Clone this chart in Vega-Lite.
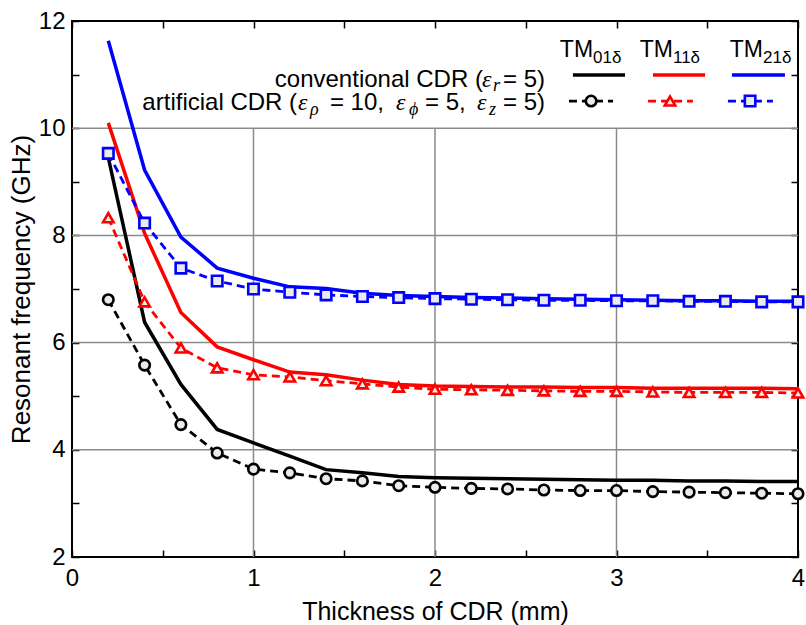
{
  "$schema": "https://vega.github.io/schema/vega-lite/v6.json",
  "width": 726,
  "height": 536,
  "autosize": {"type": "none"},
  "padding": {"left": 72, "top": 21, "right": 8, "bottom": 68},
  "background": "white",
  "config": {
    "font": "Liberation Sans",
    "view": {"stroke": "black", "strokeWidth": 2},
    "axis": {
      "domain": false,
      "grid": false,
      "labelFont": "Liberation Sans",
      "labelFontSize": 24,
      "labelColor": "black",
      "titleFont": "Liberation Sans",
      "titleFontSize": 25,
      "titleFontWeight": "normal",
      "titleColor": "black",
      "tickColor": "black",
      "tickWidth": 1.5,
      "tickSize": -7,
      "labelOverlap": false,
      "labelFlush": false
    }
  },
  "resolve": {"axis": {"x": "independent", "y": "independent"}},
  "datasets": {
    "curves": [
      {"t": 0.2, "mode": "TM01δ", "conventional": 9.45, "artificial": 6.80},
      {"t": 0.4, "mode": "TM01δ", "conventional": 6.38, "artificial": 5.58},
      {"t": 0.6, "mode": "TM01δ", "conventional": 5.22, "artificial": 4.47},
      {"t": 0.8, "mode": "TM01δ", "conventional": 4.38, "artificial": 3.94},
      {"t": 1.0, "mode": "TM01δ", "conventional": 4.13, "artificial": 3.64},
      {"t": 1.2, "mode": "TM01δ", "conventional": 3.88, "artificial": 3.57},
      {"t": 1.4, "mode": "TM01δ", "conventional": 3.63, "artificial": 3.46},
      {"t": 1.6, "mode": "TM01δ", "conventional": 3.57, "artificial": 3.42},
      {"t": 1.8, "mode": "TM01δ", "conventional": 3.50, "artificial": 3.33},
      {"t": 2.0, "mode": "TM01δ", "conventional": 3.48, "artificial": 3.30},
      {"t": 2.2, "mode": "TM01δ", "conventional": 3.47, "artificial": 3.28},
      {"t": 2.4, "mode": "TM01δ", "conventional": 3.46, "artificial": 3.27},
      {"t": 2.6, "mode": "TM01δ", "conventional": 3.45, "artificial": 3.25},
      {"t": 2.8, "mode": "TM01δ", "conventional": 3.44, "artificial": 3.24},
      {"t": 3.0, "mode": "TM01δ", "conventional": 3.43, "artificial": 3.24},
      {"t": 3.2, "mode": "TM01δ", "conventional": 3.43, "artificial": 3.22},
      {"t": 3.4, "mode": "TM01δ", "conventional": 3.42, "artificial": 3.21},
      {"t": 3.6, "mode": "TM01δ", "conventional": 3.42, "artificial": 3.20},
      {"t": 3.8, "mode": "TM01δ", "conventional": 3.41, "artificial": 3.19},
      {"t": 4.0, "mode": "TM01δ", "conventional": 3.41, "artificial": 3.18},
      {"t": 0.2, "mode": "TM11δ", "conventional": 10.10, "artificial": 8.33},
      {"t": 0.4, "mode": "TM11δ", "conventional": 8.04, "artificial": 6.76},
      {"t": 0.6, "mode": "TM11δ", "conventional": 6.56, "artificial": 5.90},
      {"t": 0.8, "mode": "TM11δ", "conventional": 5.92, "artificial": 5.53},
      {"t": 1.0, "mode": "TM11δ", "conventional": 5.68, "artificial": 5.40},
      {"t": 1.2, "mode": "TM11δ", "conventional": 5.45, "artificial": 5.36},
      {"t": 1.4, "mode": "TM11δ", "conventional": 5.40, "artificial": 5.29},
      {"t": 1.6, "mode": "TM11δ", "conventional": 5.30, "artificial": 5.23},
      {"t": 1.8, "mode": "TM11δ", "conventional": 5.22, "artificial": 5.17},
      {"t": 2.0, "mode": "TM11δ", "conventional": 5.19, "artificial": 5.13},
      {"t": 2.2, "mode": "TM11δ", "conventional": 5.18, "artificial": 5.12},
      {"t": 2.4, "mode": "TM11δ", "conventional": 5.17, "artificial": 5.11},
      {"t": 2.6, "mode": "TM11δ", "conventional": 5.17, "artificial": 5.10},
      {"t": 2.8, "mode": "TM11δ", "conventional": 5.16, "artificial": 5.09},
      {"t": 3.0, "mode": "TM11δ", "conventional": 5.16, "artificial": 5.09},
      {"t": 3.2, "mode": "TM11δ", "conventional": 5.15, "artificial": 5.08},
      {"t": 3.4, "mode": "TM11δ", "conventional": 5.15, "artificial": 5.07},
      {"t": 3.6, "mode": "TM11δ", "conventional": 5.15, "artificial": 5.07},
      {"t": 3.8, "mode": "TM11δ", "conventional": 5.15, "artificial": 5.07},
      {"t": 4.0, "mode": "TM11δ", "conventional": 5.14, "artificial": 5.06},
      {"t": 0.2, "mode": "TM21δ", "conventional": 11.63, "artificial": 9.53},
      {"t": 0.4, "mode": "TM21δ", "conventional": 9.22, "artificial": 8.23},
      {"t": 0.6, "mode": "TM21δ", "conventional": 7.97, "artificial": 7.39},
      {"t": 0.8, "mode": "TM21δ", "conventional": 7.39, "artificial": 7.15},
      {"t": 1.0, "mode": "TM21δ", "conventional": 7.20, "artificial": 7.00},
      {"t": 1.2, "mode": "TM21δ", "conventional": 7.04, "artificial": 6.94},
      {"t": 1.4, "mode": "TM21δ", "conventional": 7.01, "artificial": 6.89},
      {"t": 1.6, "mode": "TM21δ", "conventional": 6.92, "artificial": 6.86},
      {"t": 1.8, "mode": "TM21δ", "conventional": 6.88, "artificial": 6.84},
      {"t": 2.0, "mode": "TM21δ", "conventional": 6.86, "artificial": 6.82},
      {"t": 2.2, "mode": "TM21δ", "conventional": 6.84, "artificial": 6.81},
      {"t": 2.4, "mode": "TM21δ", "conventional": 6.83, "artificial": 6.80},
      {"t": 2.6, "mode": "TM21δ", "conventional": 6.82, "artificial": 6.79},
      {"t": 2.8, "mode": "TM21δ", "conventional": 6.81, "artificial": 6.79},
      {"t": 3.0, "mode": "TM21δ", "conventional": 6.80, "artificial": 6.78},
      {"t": 3.2, "mode": "TM21δ", "conventional": 6.79, "artificial": 6.78},
      {"t": 3.4, "mode": "TM21δ", "conventional": 6.78, "artificial": 6.77},
      {"t": 3.6, "mode": "TM21δ", "conventional": 6.78, "artificial": 6.77},
      {"t": 3.8, "mode": "TM21δ", "conventional": 6.77, "artificial": 6.76},
      {"t": 4.0, "mode": "TM21δ", "conventional": 6.77, "artificial": 6.76}
    ],
    "legendLines": [
      {"mode": "TM01δ", "type": "conventional", "x": 2.760, "y": 10.993},
      {"mode": "TM01δ", "type": "conventional", "x": 3.047, "y": 10.993},
      {"mode": "TM11δ", "type": "conventional", "x": 3.201, "y": 10.993},
      {"mode": "TM11δ", "type": "conventional", "x": 3.488, "y": 10.993},
      {"mode": "TM21δ", "type": "conventional", "x": 3.636, "y": 10.993},
      {"mode": "TM21δ", "type": "conventional", "x": 3.928, "y": 10.993},
      {"mode": "TM01δ", "type": "artificial", "x": 2.738, "y": 10.507},
      {"mode": "TM01δ", "type": "artificial", "x": 2.981, "y": 10.507},
      {"mode": "TM11δ", "type": "artificial", "x": 3.174, "y": 10.507},
      {"mode": "TM11δ", "type": "artificial", "x": 3.421, "y": 10.507},
      {"mode": "TM21δ", "type": "artificial", "x": 3.614, "y": 10.507},
      {"mode": "TM21δ", "type": "artificial", "x": 3.862, "y": 10.507},
      {"mode": "TM01δ", "type": "marker", "x": 2.860, "y": 10.507},
      {"mode": "TM11δ", "type": "marker", "x": 3.295, "y": 10.507},
      {"mode": "TM21δ", "type": "marker", "x": 3.736, "y": 10.507}
    ],
    "legendText": [
      {"role": "tm", "txt": "TM", "x": 2.871, "y": 11.328},
      {"role": "tm", "txt": "TM", "x": 3.311, "y": 11.328},
      {"role": "tm", "txt": "TM", "x": 3.807, "y": 11.328},
      {"role": "tmsub", "txt": "01δ", "x": 2.871, "y": 11.216},
      {"role": "tmsub", "txt": "11δ", "x": 3.311, "y": 11.216},
      {"role": "tmsub", "txt": "21δ", "x": 3.807, "y": 11.216},
      {"role": "mainR", "txt": "conventional CDR (", "x": 2.264, "y": 10.769},
      {"role": "eps", "txt": "ε", "x": 2.259, "y": 10.769},
      {"role": "sub", "txt": "r", "x": 2.320, "y": 10.694},
      {"role": "main", "txt": "= 5)", "x": 2.375, "y": 10.769},
      {"role": "mainR", "txt": "artificial CDR (", "x": 1.240, "y": 10.340},
      {"role": "eps", "txt": "ε", "x": 1.245, "y": 10.340},
      {"role": "sub", "txt": "ρ", "x": 1.311, "y": 10.240},
      {"role": "main", "txt": "= 10,", "x": 1.421, "y": 10.340},
      {"role": "eps", "txt": "ε", "x": 1.785, "y": 10.340},
      {"role": "sub", "txt": "ϕ", "x": 1.857, "y": 10.240},
      {"role": "main", "txt": "= 5,", "x": 1.945, "y": 10.340},
      {"role": "eps", "txt": "ε", "x": 2.231, "y": 10.340},
      {"role": "sub", "txt": "z", "x": 2.298, "y": 10.240},
      {"role": "main", "txt": "= 5)", "x": 2.375, "y": 10.340}
    ]
  },
  "layer": [
    {
      "data": {"values": [{"h": 4}, {"h": 6}, {"h": 8}, {"h": 10}]},
      "mark": {"type": "rule", "color": "#8a8a8a", "strokeWidth": 1.5},
      "encoding": {
        "y": {"field": "h", "type": "quantitative", "scale": {"domain": [2, 12], "nice": false, "zero": false}, "axis": null}
      }
    },
    {
      "data": {"values": [{"v": 1}, {"v": 2}, {"v": 3}]},
      "mark": {"type": "rule", "color": "#8a8a8a", "strokeWidth": 1.5},
      "encoding": {
        "x": {"field": "v", "type": "quantitative", "scale": {"domain": [0, 4], "nice": false, "zero": false}, "axis": null},
        "y": {"datum": 2, "type": "quantitative", "axis": null},
        "y2": {"datum": 10}
      }
    },
    {
      "data": {"name": "curves"},
      "transform": [{"fold": ["conventional"], "as": ["type", "f"]}],
      "mark": {"type": "line", "strokeWidth": 3.5},
      "encoding": {
        "x": {
          "field": "t", "type": "quantitative",
          "scale": {"domain": [0, 4], "nice": false, "zero": false},
          "axis": {
            "orient": "bottom",
            "title": "Thickness of CDR (mm)",
            "values": [0, 0.5, 1, 1.5, 2, 2.5, 3, 3.5, 4],
            "labelExpr": "datum.value % 1 === 0 ? format(datum.value, 'd') : ''",
            "labelPadding": 16,
            "titlePadding": 9
          }
        },
        "y": {
          "field": "f", "type": "quantitative",
          "scale": {"domain": [2, 12], "nice": false, "zero": false},
          "axis": {
            "orient": "left",
            "title": "Resonant frequency (GHz)",
            "titleFontSize": 26,
            "values": [2, 3, 4, 5, 6, 7, 8, 9, 10, 11, 12],
            "labelExpr": "datum.value % 2 === 0 ? format(datum.value, 'd') : ''",
            "labelPadding": 14,
            "titlePadding": 4
          }
        },
        "color": {"field": "mode", "type": "nominal", "scale": {"domain": ["TM01δ", "TM11δ", "TM21δ"], "range": ["#000000", "#ff0000", "#0000ff"]}, "legend": null}
      }
    },
    {
      "data": {"name": "curves"},
      "transform": [{"fold": ["artificial"], "as": ["type", "f"]}],
      "mark": {"type": "line", "strokeWidth": 2.8, "strokeDash": [8, 5]},
      "encoding": {
        "x": {
          "field": "t", "type": "quantitative",
          "axis": {
            "orient": "top", "title": null, "labels": false,
            "values": [0, 0.5, 1, 1.5, 2, 2.5, 3, 3.5, 4]
          }
        },
        "y": {
          "field": "f", "type": "quantitative",
          "axis": {
            "orient": "right", "title": null, "labels": false,
            "values": [2, 3, 4, 5, 6, 7, 8, 9, 10, 11, 12]
          }
        },
        "color": {"field": "mode", "type": "nominal", "legend": null}
      }
    },
    {
      "data": {"name": "curves"},
      "transform": [{"fold": ["artificial"], "as": ["type", "f"]}],
      "mark": {"type": "point", "filled": false, "fill": "#ebebeb", "fillOpacity": 1, "opacity": 1, "strokeWidth": 2.6, "size": 110},
      "encoding": {
        "x": {"field": "t", "type": "quantitative", "axis": null},
        "y": {"field": "f", "type": "quantitative", "axis": null},
        "stroke": {"field": "mode", "type": "nominal", "scale": {"domain": ["TM01δ", "TM11δ", "TM21δ"], "range": ["#000000", "#ff0000", "#0000ff"]}, "legend": null},
        "shape": {"field": "mode", "type": "nominal", "scale": {"domain": ["TM01δ", "TM11δ", "TM21δ"], "range": ["circle", "triangle-up", "square"]}, "legend": null}
      }
    },
    {
      "data": {"name": "legendLines"},
      "transform": [{"filter": "datum.type === 'conventional'"}],
      "mark": {"type": "line", "strokeWidth": 3.5},
      "encoding": {
        "x": {"field": "x", "type": "quantitative", "axis": null},
        "y": {"field": "y", "type": "quantitative", "axis": null},
        "color": {"field": "mode", "type": "nominal", "legend": null}
      }
    },
    {
      "data": {"name": "legendLines"},
      "transform": [{"filter": "datum.type === 'artificial'"}],
      "mark": {"type": "line", "strokeWidth": 2.8, "strokeDash": [8, 5]},
      "encoding": {
        "x": {"field": "x", "type": "quantitative", "axis": null},
        "y": {"field": "y", "type": "quantitative", "axis": null},
        "color": {"field": "mode", "type": "nominal", "legend": null}
      }
    },
    {
      "data": {"name": "legendLines"},
      "transform": [{"filter": "datum.type === 'marker'"}],
      "mark": {"type": "point", "filled": false, "fill": "#ebebeb", "fillOpacity": 1, "opacity": 1, "strokeWidth": 2.6, "size": 110},
      "encoding": {
        "x": {"field": "x", "type": "quantitative", "axis": null},
        "y": {"field": "y", "type": "quantitative", "axis": null},
        "stroke": {"field": "mode", "type": "nominal", "legend": null},
        "shape": {"field": "mode", "type": "nominal", "legend": null}
      }
    },
    {
      "data": {"name": "legendText"},
      "transform": [{"filter": "datum.role === 'tm'"}],
      "mark": {"type": "text", "align": "right", "baseline": "alphabetic", "font": "Liberation Sans", "fontSize": 23, "color": "black"},
      "encoding": {
        "x": {"field": "x", "type": "quantitative", "axis": null},
        "y": {"field": "y", "type": "quantitative", "axis": null},
        "text": {"field": "txt"}
      }
    },
    {
      "data": {"name": "legendText"},
      "transform": [{"filter": "datum.role === 'tmsub'"}],
      "mark": {"type": "text", "align": "left", "baseline": "alphabetic", "font": "Liberation Sans", "fontSize": 17, "color": "black"},
      "encoding": {
        "x": {"field": "x", "type": "quantitative", "axis": null},
        "y": {"field": "y", "type": "quantitative", "axis": null},
        "text": {"field": "txt"}
      }
    },
    {
      "data": {"name": "legendText"},
      "transform": [{"filter": "datum.role === 'mainR'"}],
      "mark": {"type": "text", "align": "right", "baseline": "alphabetic", "font": "Liberation Sans", "fontSize": 24, "color": "black"},
      "encoding": {
        "x": {"field": "x", "type": "quantitative", "axis": null},
        "y": {"field": "y", "type": "quantitative", "axis": null},
        "text": {"field": "txt"}
      }
    },
    {
      "data": {"name": "legendText"},
      "transform": [{"filter": "datum.role === 'main'"}],
      "mark": {"type": "text", "align": "left", "baseline": "alphabetic", "font": "Liberation Sans", "fontSize": 24, "color": "black"},
      "encoding": {
        "x": {"field": "x", "type": "quantitative", "axis": null},
        "y": {"field": "y", "type": "quantitative", "axis": null},
        "text": {"field": "txt"}
      }
    },
    {
      "data": {"name": "legendText"},
      "transform": [{"filter": "datum.role === 'eps'"}],
      "mark": {"type": "text", "align": "left", "baseline": "alphabetic", "font": "Liberation Serif", "fontStyle": "italic", "fontSize": 24, "color": "black"},
      "encoding": {
        "x": {"field": "x", "type": "quantitative", "axis": null},
        "y": {"field": "y", "type": "quantitative", "axis": null},
        "text": {"field": "txt"}
      }
    },
    {
      "data": {"name": "legendText"},
      "transform": [{"filter": "datum.role === 'sub'"}],
      "mark": {"type": "text", "align": "left", "baseline": "alphabetic", "font": "Liberation Serif", "fontStyle": "italic", "fontSize": 18, "color": "black"},
      "encoding": {
        "x": {"field": "x", "type": "quantitative", "axis": null},
        "y": {"field": "y", "type": "quantitative", "axis": null},
        "text": {"field": "txt"}
      }
    }
  ]
}
